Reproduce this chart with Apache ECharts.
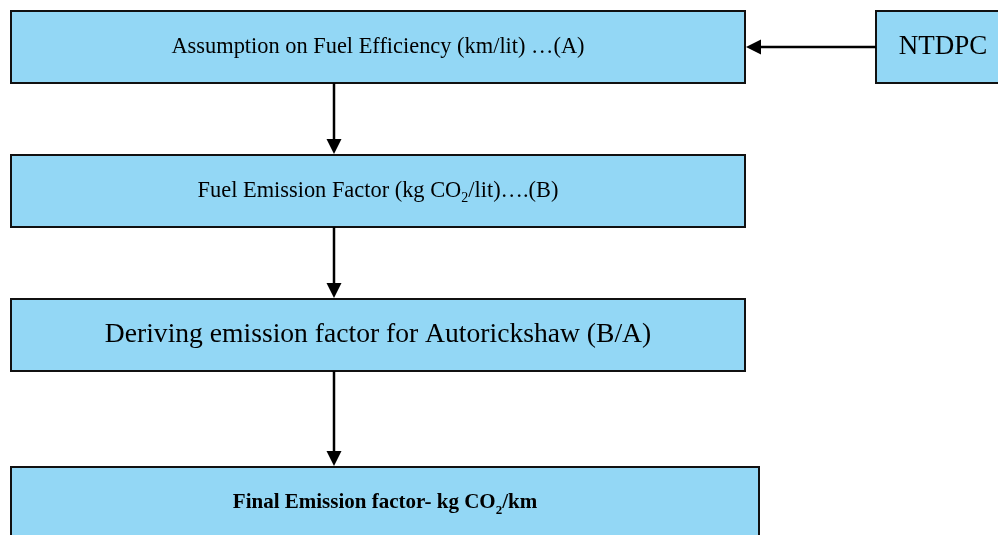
<!DOCTYPE html>
<html>
<head>
<meta charset="utf-8">
<script src="https://cdn.jsdelivr.net/npm/echarts@6/dist/echarts.min.js"></script>
<style>
html,body{margin:0;padding:0;background:#fff;}
#chart{width:998px;height:535px;}
</style>
</head>
<body>
<div id="chart"></div>
<script>
// Box texts (rich-text markup, {sub|2} = subscript)
const boxLabels = [
  'Assumption on Fuel Efficiency (km/lit) …(A)',
  'Fuel Emission Factor (kg CO{sub|2}/lit)….(B)',
  'Deriving emission factor for Autorickshaw (B/A)',
  '{b|Final Emission factor- kg CO}{bsub|2}{b|/km}',
  'NTDPC'
];
// Box extents in diagram units: [x0, y0, x1, y1]
const boxExtents = [
  [11, 11, 745, 83],
  [11, 155, 745, 227],
  [11, 299, 745, 371],
  [11, 467, 759, 545],
  [876, 11, 1010, 83]
];
// Arrows: [fromX, fromY, toX, toY]
const arrows = [
  [876, 47, 746, 47],
  [334, 83, 334, 154],
  [334, 227, 334, 298],
  [334, 371, 334, 466]
];

const boxFontSizes = [22.4, 22.4, 27.6, 21, 27];
const chart = echarts.init(document.getElementById('chart'));
const fontFamily = '"Liberation Serif","Times New Roman",serif';

chart.setOption({
  animation: false,
  grid: {left: 0, right: 0, top: 0, bottom: 0},
  xAxis: {type: 'value', min: 0, max: 998, show: false},
  yAxis: {type: 'value', min: 0, max: 535, inverse: true, show: false},
  series: [
    {
      type: 'custom',
      coordinateSystem: 'cartesian2d',
      data: boxExtents.map((e, i) => [e[0], e[1], e[2], e[3], i]),
      encode: {x: [0, 2], y: [1, 3]},
      clip: false,
      renderItem: function (params, api) {
        const p0 = api.coord([api.value(0), api.value(1)]);
        const p1 = api.coord([api.value(2), api.value(3)]);
        const i = api.value(4);
        const fs = boxFontSizes[i];
        const subFs = Math.round(fs * 0.62);
        return {
          type: 'group',
          children: [
            {
              type: 'rect',
              shape: {x: p0[0], y: p0[1], width: p1[0] - p0[0], height: p1[1] - p0[1]},
              style: {fill: '#93d7f5', stroke: '#111', lineWidth: 2}
            },
            {
              type: 'text',
              x: (p0[0] + p1[0]) / 2,
              y: i === 3 ? p0[1] + 36 : (p0[1] + p1[1]) / 2,
              style: {
                text: boxLabels[i],
                align: 'center',
                verticalAlign: 'middle',
                fontFamily: fontFamily,
                fontSize: fs,
                fill: '#000',
                rich: {
                  sub: {fontSize: subFs, fontFamily: fontFamily, fill: '#000', padding: [15, 0, 0, 0]},
                  b: {fontSize: fs, fontWeight: 'bold', fontFamily: fontFamily, fill: '#000'},
                  bsub: {fontSize: subFs, fontWeight: 'bold', fontFamily: fontFamily, fill: '#000', padding: [15, 0, 0, 0]}
                }
              }
            }
          ]
        };
      }
    },
    {
      type: 'custom',
      coordinateSystem: 'cartesian2d',
      data: arrows,
      encode: {x: [0, 2], y: [1, 3]},
      clip: false,
      renderItem: function (params, api) {
        const a = api.coord([api.value(0), api.value(1)]);
        const b = api.coord([api.value(2), api.value(3)]);
        const dx = b[0] - a[0], dy = b[1] - a[1];
        const len = Math.sqrt(dx * dx + dy * dy);
        const ux = dx / len, uy = dy / len;
        const hl = 15, hw = 7.5;
        const base = [b[0] - ux * hl, b[1] - uy * hl];
        return {
          type: 'group',
          children: [
            {
              type: 'line',
              shape: {x1: a[0], y1: a[1], x2: base[0], y2: base[1]},
              style: {stroke: '#000', lineWidth: 2.5}
            },
            {
              type: 'polygon',
              shape: {points: [
                [b[0], b[1]],
                [base[0] - uy * hw, base[1] + ux * hw],
                [base[0] + uy * hw, base[1] - ux * hw]
              ]},
              style: {fill: '#000'}
            }
          ]
        };
      }
    }
  ]
});
</script>
</body>
</html>
